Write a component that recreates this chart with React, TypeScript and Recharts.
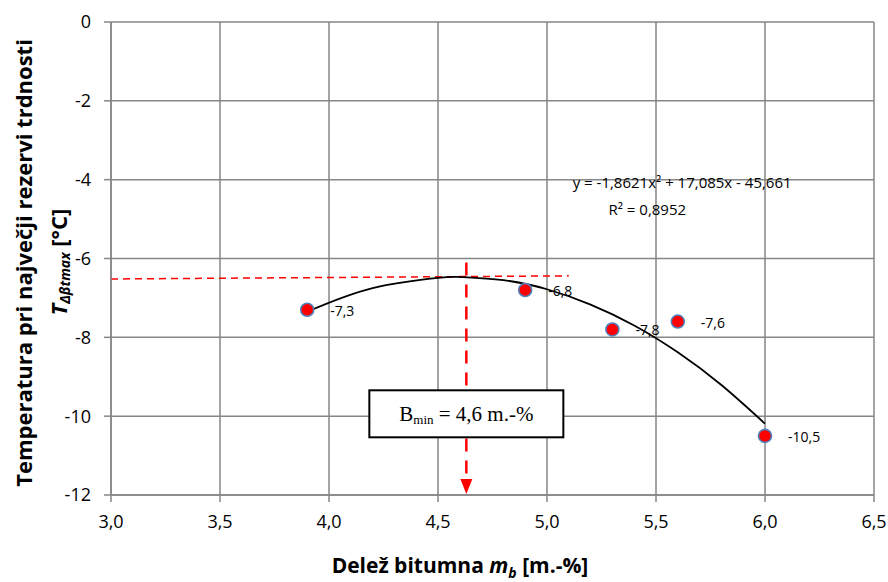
import React from 'react';
import {
  ComposedChart,
  Scatter,
  Line,
  XAxis,
  YAxis,
  CartesianGrid,
  ReferenceLine,
  ReferenceDot,
  Label,
} from 'recharts';

// Measured points
const bitumen = [3.9, 4.9, 5.3, 5.6, 6.0];
const temperature = [-7.3, -6.8, -7.8, -7.6, -10.5];
const pointLabels = ['-7,3', '-6,8', '-7,8', '-7,6', '-10,5'];

// Polynomial trendline
const trendX = [3.9, 4.2, 4.5, 4.6, 4.8, 5.0, 5.2, 5.4, 5.6, 5.8, 6.0];
const trendY = [-7.35, -6.75, -6.49, -6.47, -6.55, -6.78, -7.17, -7.7, -8.38, -9.21, -10.19];

// Axis ticks
const xTicks = [3, 3.5, 4, 4.5, 5, 5.5, 6, 6.5];
const yTicks = [-12, -10, -8, -6, -4, -2, 0];

// Annotations
const hLineStart = { x: 3.0, y: -6.52 };
const hLineEnd = { x: 5.1, y: -6.44 };
const bMin = 4.63;
const vLineTop = -6.1;
const vLineBottom = -11.7;
const boxCenterY = -9.94;
const equationText = 'y = -1,8621x² + 17,085x - 45,661';
const r2Text = 'R² = 0,8952';
const eqPos = { x: 5.62, y: -4.2 };
const r2Pos = { x: 5.46, y: -4.9 };

const points = bitumen.map((x, i) => ({ x, y: temperature[i], label: pointLabels[i] }));
const trend = trendX.map((x, i) => ({ x, y: trendY[i] }));

const FONT = '"Open Sans", sans-serif';
const GRID = '#868686';

const fmt = (v: number) => v.toFixed(1).replace('.', ',');

const PointShape = (props: any) => {
  const { cx, cy, payload } = props;
  return (
    <g>
      <circle cx={cx} cy={cy} r={6.5} fill="#ff0000" stroke="#4f81bd" strokeWidth={1.6} />
      <text x={cx + 23} y={cy + 6} fontSize={14} fontFamily={FONT} fill="#000">
        {payload.label}
      </text>
    </g>
  );
};

const ArrowHead = (props: any) => {
  const { cx, cy } = props;
  return <path d={`M${cx - 6},${cy - 16} L${cx + 6},${cy - 16} L${cx},${cy - 1} Z`} fill="#ff0000" />;
};

const BoxShape = (props: any) => {
  const { cx, cy } = props;
  return (
    <g>
      <rect x={cx - 97} y={cy - 23.5} width={194} height={47} fill="#fff" stroke="#000" strokeWidth={2} />
      <text x={cx} y={cy + 7} textAnchor="middle" fontFamily='"Liberation Serif", "Times New Roman", serif' fontSize={21} fill="#000">
        B<tspan fontSize={13} dy={3}>min</tspan>
        <tspan dy={-3}> = 4,6 m.-%</tspan>
      </text>
    </g>
  );
};

const TextShape = (text: string) => (props: any) => {
  const { cx, cy } = props;
  return (
    <text x={cx} y={cy} textAnchor="middle" fontFamily={FONT} fontSize={15} fill="#000">
      {text}
    </text>
  );
};

const YTitle = () => {
  const c1x = 23;
  const c1y = 263;
  const c2x = 58;
  const c2y = 262;
  return (
    <g>
      <text
        x={c1x}
        y={c1y}
        transform={`rotate(-90 ${c1x} ${c1y})`}
        textAnchor="middle"
        dominantBaseline="central"
        fontFamily={FONT}
        fontWeight="bold"
        fontSize={22}
        fill="#000"
      >
        Temperatura pri največji rezervi trdnosti
      </text>
      <text
        x={c2x}
        y={c2y}
        transform={`rotate(-90 ${c2x} ${c2y})`}
        textAnchor="middle"
        dominantBaseline="central"
        fontFamily={FONT}
        fontWeight="bold"
        fontSize={22}
        fill="#000"
      >
        <tspan fontStyle="italic">T</tspan>
        <tspan fontStyle="italic" fontSize={14} dy={6}>Δβtmax</tspan>
        <tspan dy={-6}> [°C]</tspan>
      </text>
    </g>
  );
};

const XTitle = () => (
  <text x={460} y={573} textAnchor="middle" fontFamily={FONT} fontWeight="bold" fontSize={21} fill="#000">
    Delež bitumna <tspan fontStyle="italic">m</tspan>
    <tspan fontStyle="italic" fontSize={14} dy={5}>b</tspan>
    <tspan dy={-5}> [m.-%]</tspan>
  </text>
);

export default function App() {
  return (
    <div style={{ position: 'absolute', left: 0, top: 0, width: 888, height: 582, background: '#fff' }}>
      <ComposedChart width={888} height={582} margin={{ top: 22, right: 14, bottom: 0, left: 0 }}>
        <CartesianGrid stroke={GRID} strokeWidth={1.5} />
        <XAxis
          type="number"
          dataKey="x"
          domain={[3, 6.5]}
          ticks={xTicks}
          tickFormatter={fmt}
          height={87}
          stroke={GRID}
          strokeWidth={1.5}
          tickSize={7}
          tickMargin={13}
          tick={{ fill: '#000', fontSize: 18, fontFamily: FONT }}
          allowDataOverflow
        >
          <Label content={() => <XTitle />} />
        </XAxis>
        <YAxis
          type="number"
          dataKey="y"
          domain={[-12, 0]}
          ticks={yTicks}
          width={111}
          stroke={GRID}
          strokeWidth={1.5}
          tickSize={7}
          tickMargin={13}
          tick={{ fill: '#000', fontSize: 18, fontFamily: FONT }}
          allowDataOverflow
        >
          <Label content={() => <YTitle />} />
        </YAxis>
        <ReferenceLine
          segment={[hLineStart, hLineEnd]}
          stroke="#ff0000"
          strokeWidth={1.5}
          strokeDasharray="7 5"
        />
        <ReferenceLine
          segment={[
            { x: bMin, y: vLineTop },
            { x: bMin, y: vLineBottom },
          ]}
          stroke="#ff0000"
          strokeWidth={2.5}
          strokeDasharray="13 9"
        />
        <ReferenceDot x={bMin} y={-12} r={6} shape={ArrowHead} />
        <Line
          data={trend}
          dataKey="y"
          type="natural"
          stroke="#000"
          strokeWidth={1.8}
          dot={false}
          activeDot={false}
          isAnimationActive={false}
        />
        <Scatter data={points} dataKey="y" shape={PointShape} isAnimationActive={false} />
        <ReferenceDot x={bMin} y={boxCenterY} r={5} shape={BoxShape} />
        <ReferenceDot x={eqPos.x} y={eqPos.y} r={5} shape={TextShape(equationText)} />
        <ReferenceDot x={r2Pos.x} y={r2Pos.y} r={5} shape={TextShape(r2Text)} />
      </ComposedChart>
    </div>
  );
}
